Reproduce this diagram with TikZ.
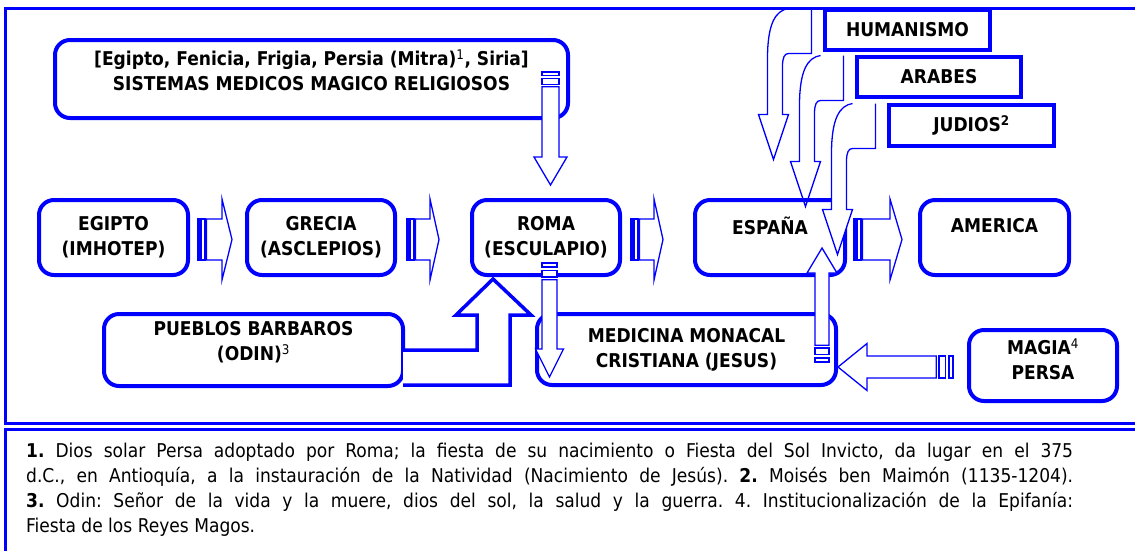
\documentclass[tikz,border=0pt]{standalone}
\usepackage{fontspec}
\setmainfont{DejaVu Sans Condensed}
\usetikzlibrary{calc}
\frenchspacing

\begin{document}
\begin{tikzpicture}[x=1pt, y=-1pt,
   rbox/.style={draw=blue, line width=4, rounded corners=15, inner sep=0pt, outer sep=0pt},
   sbox/.style={draw=blue, fill=white, line width=4, inner sep=0pt, outer sep=0pt},
   txt/.style={align=center, font=\bfseries\fontsize{19}{25}\selectfont},
   thinarrow/.style={draw=blue, fill=white, line width=1.3},
   frame/.style={draw=blue, line width=3},
   % #1 length, #2 half shaft, #3 half head, #4 head length, #5 stripe unit
   pics/stripearrow/.style n args={5}{code={
      \filldraw[thinarrow] (0,-#2) rectangle (#5,#2);
      \filldraw[thinarrow] (1.8*#5,-#2) rectangle (3.5*#5,#2);
      \filldraw[thinarrow] (4.2*#5,-#2) -- (#1-#4,-#2) -- (#1-#4,-#3) -- (#1,0)
         -- (#1-#4,#3) -- (#1-#4,#2) -- (4.2*#5,#2) -- cycle;}},
   pics/bentarrow/.style={code={
      \filldraw[thinarrow] (0,0) -- (0,45) -- (-23,45)
         .. controls (-27,45) and (-29,49) .. (-29,58) -- (-29,106) -- (-23,106)
         -- (-38,151) -- (-53,106) -- (-44,106) -- (-44,50)
         .. controls (-44,15) and (-36,2) .. (-23,0);}}]
\path[use as bounding box, clip] (0,0) rectangle (1135,550);

% magico religiosos
\node[rbox, minimum width=513, minimum height=78] (sistemas) at (311.5,79) {};
\node[txt] at ([yshift=8.5]sistemas.center)
   {[Egipto, Fenicia, Frigia, Persia (Mitra)\textsuperscript{\mdseries 1}, Siria]\\SISTEMAS MEDICOS MAGICO RELIGIOSOS};
\pic[rotate=-90] at ($(sistemas.south east)+(-17.5,-46)$) {stripearrow={113}{8.5}{16.5}{28}{3.5}};

% main line
\node[rbox, txt, minimum width=149, minimum height=75] (egipto) at (113.5,237.5) {EGIPTO\\(IMHOTEP)};
\node[rbox, txt, minimum width=148, minimum height=75] (grecia) at (321,237.5) {GRECIA\\(ASCLEPIOS)};
\node[rbox, txt, minimum width=148, minimum height=75] (roma) at (546,237.5) {ROMA\\(ESCULAPIO)};
\pic at ($(egipto.east)+(10,2)$) {stripearrow={34}{20.5}{40.5}{10}{2}};
\pic at ($(grecia.east)+(12,2)$) {stripearrow={32}{20.5}{40.5}{9}{2}};
\pic at ($(roma.east)+(11,2)$) {stripearrow={32}{20.5}{40.5}{9}{2}};

% influences from the top
\node[sbox, txt, minimum width=165, minimum height=40] (humanismo) at (907.5,30) {HUMANISMO};
\node[sbox, txt, minimum width=164, minimum height=40] (arabes) at (939,77) {ARABES};
\node[sbox, txt, minimum width=165, minimum height=41] (judios) at (971.5,125.5) {JUDIOS\textsuperscript{2}};
\pic at ($(humanismo.north west)+(-13.5,-1.5)$) {bentarrow};
\pic at ($(arabes.north west)+(-13.5,-1.5)$) {bentarrow};

\node[rbox, minimum width=150, minimum height=75] (espana) at (770,237.5) {};
\node[txt] at ([yshift=11.5]espana.center) {ESPAÑA};
\node[rbox, minimum width=149, minimum height=75] (america) at (994.5,237.5) {};
\node[txt] at ([yshift=11.5]america.center) {AMERICA};
\pic at ($(espana.east)+(9,2)$) {stripearrow={48}{20.5}{40.5}{12}{2}};
\pic at ($(judios.north west)+(-13.5,-1.5)$) {bentarrow};

% lower line
\node[rbox, minimum width=299, minimum height=72] (pueblos) at (253.5,350) {};
\node[txt] at ([yshift=7.5]pueblos.center) {PUEBLOS BARBAROS\\(ODIN)\textsuperscript{\mdseries 3}};
\node[rbox, txt, minimum width=299, minimum height=71] (medicina) at (686.5,349.5) {MEDICINA MONACAL\\CRISTIANA (JESUS)};
\node[rbox, minimum width=148, minimum height=71] (magia) at (1043,365.5) {};
\node[txt] at ([yshift=6]magia.center) {MAGIA\textsuperscript{\mdseries 4}\\PERSA};

\pic[rotate=-90] at ($(roma.south)+(3.5,-12)$) {stripearrow={114}{7.5}{14}{28}{4}};
\pic[rotate=90] at ($(medicina.south east)+(-14,-23)$) {stripearrow={114}{7}{15}{25}{4}};
\pic[rotate=180] at ($(magia.west)+(-16,1.5)$) {stripearrow={115}{11}{23.5}{29}{4}};
\filldraw[draw=blue, fill=white, line width=3.5] (pueblos.east) -- ++(74,0) -- ++(0,-35)
   -- ++(-21,0) -- ++(37,-36) -- ++(38,36) -- ++(-21,0) -- ++(0,70) -- ++(-107,0);

% frames
\draw[frame] (5.5,8.5) rectangle (1150,423);
\draw[frame] (5.5,429.5) rectangle (1150,560);
\node[anchor=north west, text width=1047, inner sep=0pt, align=justify,
   font=\fontsize{19}{25}\selectfont] (notas) at (26,443)
   {\textbf{1.} Dios solar Persa adoptado por Roma; la fiesta de su nacimiento o Fiesta del Sol Invicto, da lugar en el 375\linebreak
    d.C., en Antioquía, a la instauración de la Natividad (Nacimiento de Jesús). \textbf{2.} Moisés ben Maimón (1135-1204).\linebreak
    \textbf{3.} Odin: Señor de la vida y la muere, dios del sol, la salud y la guerra. 4. Institucionalización de la Epifanía:\linebreak
    Fiesta de los Reyes Magos.};
\end{tikzpicture}
\end{document}
